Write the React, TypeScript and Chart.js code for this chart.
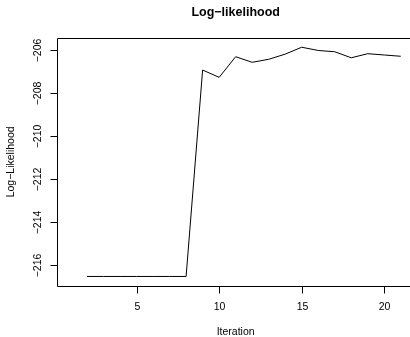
import React, { useEffect, useRef } from "react";
import { Chart, registerables } from "chart.js";

Chart.register(...registerables);

const iterations = [2, 3, 4, 5, 6, 7, 8, 9, 10, 11, 12, 13, 14, 15, 16, 17, 18, 19, 20, 21];
const logLikelihood = [
  -216.53, -216.53, -216.53, -216.53, -216.53, -216.53, -216.53,
  -206.93, -207.27, -206.31, -206.57, -206.43, -206.19, -205.87,
  -206.02, -206.08, -206.36, -206.17, -206.23, -206.29,
];
const xTicks = [5, 10, 15, 20];
const yTicks = [-216, -214, -212, -210, -208, -206];
const chartTitle = "Log\u2212likelihood";
const xTitle = "Iteration";
const yTitle = "Log\u2212Likelihood";

const FONT = '"Liberation Sans", Arial, Helvetica, sans-serif';

const rStyleAxes = {
  id: "rStyleAxes",
  afterDraw(chart: any) {
    const { ctx, chartArea } = chart;
    const xs = chart.scales.x;
    const ys = chart.scales.y;
    const L = Math.round(chartArea.left) + 0.5;
    const T = Math.round(chartArea.top) + 0.5;
    const R = Math.round(chartArea.right) + 0.5;
    const B = Math.round(chartArea.bottom) + 0.5;
    ctx.save();
    ctx.strokeStyle = "#000";
    ctx.fillStyle = "#000";
    ctx.lineWidth = 1;
    ctx.beginPath();
    ctx.rect(L, T, R - L, B - T);
    ctx.stroke();

    ctx.font = `10.5px ${FONT}`;
    ctx.textAlign = "center";
    ctx.textBaseline = "middle";
    // x ticks
    for (const v of xTicks) {
      const x = Math.round(xs.getPixelForValue(v)) + 0.5;
      ctx.beginPath();
      ctx.moveTo(x, B);
      ctx.lineTo(x, B + 7);
      ctx.stroke();
      ctx.fillText(String(v), x, B + 21);
    }
    // y ticks
    for (const v of yTicks) {
      const y = Math.round(ys.getPixelForValue(v)) + 0.5;
      ctx.beginPath();
      ctx.moveTo(L, y);
      ctx.lineTo(L - 7, y);
      ctx.stroke();
      ctx.save();
      ctx.translate(L - 19, y);
      ctx.rotate(-Math.PI / 2);
      ctx.fillText(String(v).replace("-", "\u2212"), 0, 0);
      ctx.restore();
    }
    const cx = (chartArea.left + chartArea.right) / 2;
    const cy = (chartArea.top + chartArea.bottom) / 2;
    ctx.fillText(xTitle, cx, B + 46);
    ctx.save();
    ctx.translate(10.7, cy);
    ctx.rotate(-Math.PI / 2);
    ctx.fillText(yTitle, 0, 0);
    ctx.restore();

    ctx.font = `bold 12.5px ${FONT}`;
    ctx.fillText(chartTitle, cx, 12.5);
    ctx.restore();
  },
};

export default function App() {
  const ref = useRef<HTMLCanvasElement | null>(null);
  useEffect(() => {
    if (!ref.current) return;
    const chart = new Chart(ref.current, {
      type: "line",
      data: {
        datasets: [
          {
            data: iterations.map((x, i) => ({ x, y: logLikelihood[i] })),
            borderColor: "#000",
            borderWidth: 1,
            pointRadius: 0,
            fill: false,
            tension: 0,
          },
        ],
      },
      options: {
        responsive: false,
        animation: false,
        devicePixelRatio: 1,
        layout: { padding: { left: 57.3, top: 38, right: 26, bottom: 51.3 } },
        plugins: { legend: { display: false }, tooltip: { enabled: false }, title: { display: false } },
        scales: {
          x: {
            type: "linear",
            min: 0.2,
            max: 21.8,
            ticks: { display: false },
            grid: { display: false },
            border: { display: false },
            afterFit: (s: any) => { s.height = 0; },
          },
          y: {
            type: "linear",
            min: -216.96,
            max: -205.44,
            ticks: { display: false },
            grid: { display: false },
            border: { display: false },
            afterFit: (s: any) => { s.width = 0; },
          },
        },
      },
      plugins: [rStyleAxes],
    });
    return () => chart.destroy();
  }, []);
  return (
    <div style={{ position: "fixed", left: 0, top: 0, width: 410, height: 337, overflow: "hidden", background: "#fff" }}>
      <canvas ref={ref} width={440} height={337} style={{ width: 440, height: 337, display: "block" }} />
    </div>
  );
}
